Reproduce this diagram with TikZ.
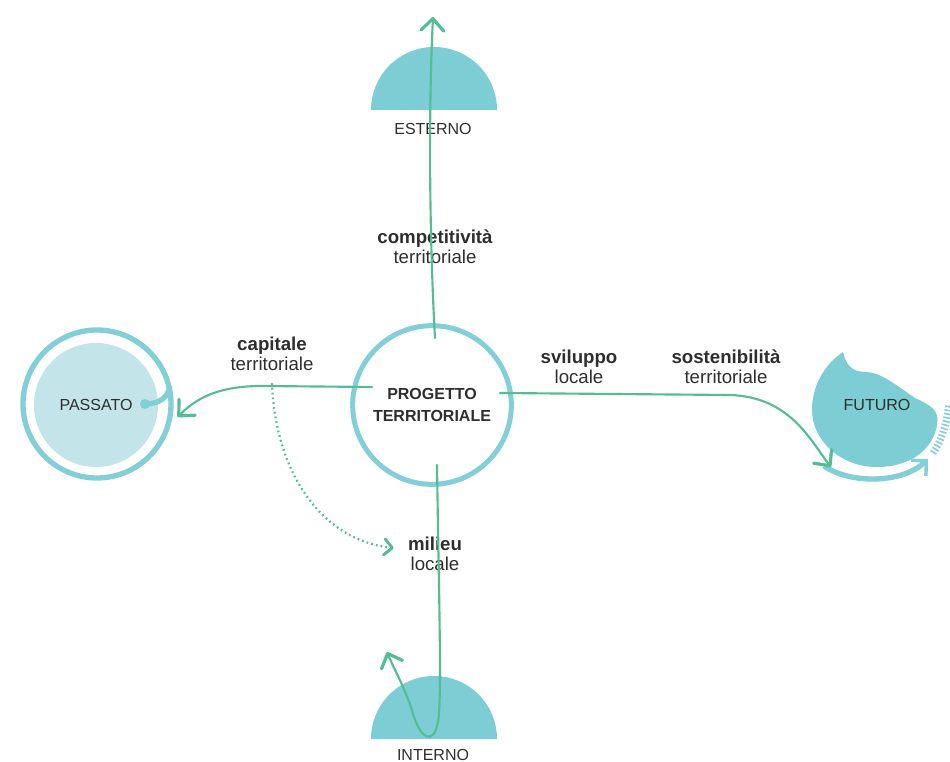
\documentclass[tikz,border=0pt]{standalone}
\usepackage{fontspec}
\setmainfont{Liberation Sans}
\usetikzlibrary{arrows.meta,calc}

\definecolor{discteal}{HTML}{7DCDD4}
\definecolor{ringteal}{HTML}{82CFD7}
\definecolor{palecyan}{HTML}{C3E5EA}
\definecolor{leafgreen}{HTML}{55BD93}
\definecolor{inkgray}{HTML}{2E2E2E}

\begin{document}
\begin{tikzpicture}[x=0.75pt,y=-0.75pt,
  word/.style={align=center,font=\fontsize{14}{15}\selectfont,text=inkgray,inner sep=0pt},
  pole/.style={font=\fontsize{12}{14}\selectfont,text=inkgray,inner sep=0pt},
  flow/.style={draw=leafgreen,line width=1.6pt,line cap=round,
               -{Straight Barb[length=9pt,width=17pt,line width=2.4pt,round]}},
  hint/.style={draw=leafgreen,line width=1.7pt,dash pattern=on 1.3pt off 2.3pt,
               -{Straight Barb[length=6pt,width=12pt,line width=2.2pt,round]}},
  ring/.style={draw=ringteal,line width=3.75pt,circle,inner sep=0pt},
  sweep/.style={draw=ringteal,line width=4pt,
               -{Straight Barb[length=8pt,width=16pt,line width=2.6pt]}}]
\useasboundingbox (0,0) rectangle (950,762);

% --- half discs: outside (top) and inside (bottom)
\fill[discteal] (371,110) arc[start angle=180,end angle=360,radius=63] -- cycle;
\fill[discteal] (371,739) arc[start angle=180,end angle=360,radius=63] -- cycle;
\node[pole] (esterno) at (433,129) {ESTERNO};
\node[pole] (interno) at (433,755) {INTERNO};

% --- the past: pale disc inside a ring that winds out of it
\node[circle,fill=palecyan,minimum size=93pt,inner sep=0pt] (passato) at (96,405) {};
\node[ring,line width=4pt,minimum size=111pt] (passring) at (97,404) {};
\coordinate (seed) at ($(passato.center)+(49,-1)$);
\fill[ringteal] (seed) circle (5);
\draw[ringteal,line width=4pt] (seed) .. controls ($(seed)+(15,0)$) and ($(seed)+(23,-7)$) .. ($(seed)+(25,-18)$);
\node[pole] at (passato.center) {PASSATO};

% --- the future: a bitten blob with a sweep beneath it
\fill[discteal] (843,352)
  .. controls (846,365) and (852,372) .. (866,372)
  .. controls (880,372) and (896,385) .. (915,398)
  .. controls (930,405) and (940,410) .. (937,425)
  .. controls (934,446) and (914,467) .. (877,467)
  .. controls (840,467) and (812,440) .. (812,410)
  .. controls (812,385) and (825,364) .. (843,352) -- cycle;
\node[pole] (futuro) at (877,405) {FUTURO};
\coordinate (sweepA) at (824,466);
\coordinate (sweepB) at (928,459);
\draw[sweep] (sweepA) .. controls (850,484) and (902,484) .. (sweepB);
\draw[ringteal,line width=5.5pt,dash pattern=on 1.2pt off 1.6pt]
  (933,453) .. controls (940,443) and (946,428) .. (949,405);

% --- the project at the centre
\node[ring,minimum size=119pt,font=\bfseries\fontsize{12}{16.5}\selectfont,
      text=inkgray,align=center] (proj) at (432,405) {PROGETTO\\TERRITORIALE};

% --- labels along the flows
\node[word] (compet) at (435,247) {\textbf{competitività}\\territoriale};
\node[word] (capit)  at (272,354) {\textbf{capitale}\\territoriale};
\node[word] (svil)   at (579,367) {\textbf{sviluppo}\\locale};
\node[word] (sosten) at (726,367) {\textbf{sostenibilità}\\territoriale};
\node[word] (milieu) at (435,554) {\textbf{milieu}\\locale};

% --- flows leaving the project
\coordinate (upS)    at ($(proj.center)+(3,-67)$);
\coordinate (upT)    at (433,17);
\draw[flow] (upS) .. controls (430,250) and (428,120) .. (upT);

\coordinate (leftS)  at ($(proj.center)+(-60,-18)$);
\coordinate (leftT)  at ($(passring.east)+(4,13)$);
\draw[flow] (leftS) -- (262,386) .. controls (226,386) and (200,394) .. (leftT);

\coordinate (rightS) at ($(proj.center)+(68,-12)$);
\coordinate (rightT) at (831,467);
\draw[flow] (rightS) -- (730,395) .. controls (790,397) and (810,440) .. (rightT);

\coordinate (downS)  at ($(proj.center)+(5,60)$);
\coordinate (downT)  at (387,652);
\draw[flow] (downS) .. controls (439,600) and (442,700) .. (438,722)
  .. controls (434,745) and (420,742) .. (411,707)
  .. controls (402,682) and (393,667) .. (downT);

% --- the dotted link from capital to milieu
\coordinate (dotS) at ($(capit.south)+(0,12)$);
\coordinate (dotT) at ($(milieu.west)+(-14,-6)$);
\draw[hint] (dotS) .. controls (275,470) and (320,540) .. (dotT);
\end{tikzpicture}
\end{document}
